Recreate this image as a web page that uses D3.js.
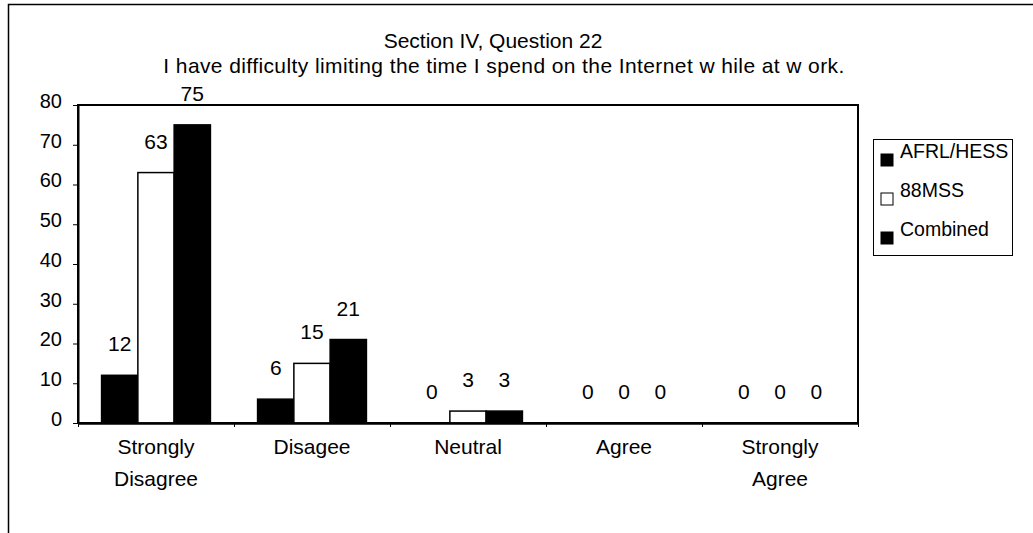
<!DOCTYPE html>
<head>
  <meta charset="utf-8">
  <script src="https://d3js.org/d3.v7.min.js"></script>
  <style>
  body,html {font-family:"Liberation Sans", Arial, sans-serif; margin:0; background:#fff;}
  text {fill:#000;}
  .tick text {font-size:20px;}
</style>
</head>

<body>
  <script>

    // DATA
    const categories = ["Strongly\nDisagree", "Disagee", "Neutral", "Agree", "Strongly\nAgree"];
    const seriesNames = ["AFRL/HESS", "88MSS", "Combined"];
    const seriesFill = ["#000", "#fff", "#000"];
    const afrlHess = [12, 6, 0, 0, 0];
    const mss88 = [63, 15, 3, 0, 0];
    const combined = [75, 21, 3, 0, 0];
    const yTicks = [0, 10, 20, 30, 40, 50, 60, 70, 80];

    const width = 1033;
    const height = 533;
    const plot = {left:78, top:105, right:858, bottom:423};

    const svg = d3.select("body").append("svg")
    .attr("width", width)
    .attr("height", height);

    // outer chart frame (runs off the right and bottom edge)
    svg.append("rect")
    .attr("x", 8.5).attr("y", 4.5)
    .attr("width", 1100).attr("height", 600)
    .attr("fill", "none").attr("stroke", "#000").attr("stroke-width", 1.5);

    // TITLE
    svg.append("text")
    .attr("x", 493).attr("y", 48)
    .attr("text-anchor", "middle")
    .style("font-size", "21px")
    .text("Section IV, Question 22");

    svg.append("text")
    .attr("x", 504).attr("y", 73)
    .attr("text-anchor", "middle")
    .style("font-size", "21px")
    .style("letter-spacing", "0.4px")
    .text("I have difficulty limiting the time I spend on the Internet w hile at w ork.");

    // SCALES
    const x0 = d3.scaleBand()
    .domain(d3.range(categories.length))
    .range([plot.left, plot.right])
    .padding(0);

    const x1 = d3.scaleBand()
    .domain(d3.range(seriesNames.length))
    .range([0, x0.bandwidth()])
    .paddingInner(0)
    .paddingOuter(0.65);

    const y = d3.scaleLinear()
    .domain([0, 80])
    .range([plot.bottom, plot.top]);

    const xEdge = d3.scaleLinear()
    .domain([0, categories.length])
    .range([plot.left, plot.right]);

    // plot area frame
    svg.append("rect")
    .attr("x", plot.left).attr("y", plot.top)
    .attr("width", plot.right - plot.left).attr("height", plot.bottom - plot.top)
    .attr("fill", "none").attr("stroke", "#000").attr("stroke-width", 2);

    // BARS
    const table = categories.map((c, i) => [afrlHess[i], mss88[i], combined[i]]);

    const groups = svg.selectAll(".grp")
    .data(table)
    .enter()
    .append("g")
    .classed("grp", true)
    .attr("transform", (d, i) => "translate(" + x0(i) + ",0)");

    groups.selectAll("rect")
    .data(d => d)
    .enter()
    .append("rect")
    .attr("x", (d, j) => x1(j))
    .attr("y", d => y(d))
    .attr("width", x1.bandwidth())
    .attr("height", d => y(0) - y(d))
    .attr("fill", (d, j) => seriesFill[j])
    .attr("stroke", d => d > 0 ? "#000" : "none")
    .attr("stroke-width", 1.5);

    groups.selectAll(".val")
    .data(d => d)
    .enter()
    .append("text")
    .classed("val", true)
    .attr("x", (d, j) => x1(j) + x1.bandwidth() / 2)
    .attr("y", d => y(d) - 24)
    .attr("text-anchor", "middle")
    .style("font-size", "21px")
    .text(d => d);

    // AXES
    svg.append("g")
    .attr("transform", "translate(" + plot.left + ",0)")
    .call(d3.axisLeft(y).tickValues(yTicks).tickSize(5).tickSizeOuter(0).tickPadding(11))
    .call(g => g.select(".domain").attr("stroke-width", 2))
    .call(g => g.selectAll(".tick text").attr("dy", "0.12em").style("font-family", "Liberation Sans, Arial"));

    svg.append("g")
    .attr("transform", "translate(0," + plot.bottom + ")")
    .call(d3.axisBottom(xEdge).ticks(categories.length).tickSize(4).tickSizeOuter(0).tickFormat(""))
    .call(g => g.select(".domain").attr("stroke-width", 2.5));

    // category labels, two lines where needed
    const catLabels = svg.append("g")
    .selectAll("text")
    .data(categories)
    .enter()
    .append("text")
    .attr("text-anchor", "middle")
    .style("font-size", "21px");

    catLabels.selectAll("tspan")
    .data((d, i) => d.split("\n").map(s => ({s:s, i:i})))
    .enter()
    .append("tspan")
    .attr("x", d => x0(d.i) + x0.bandwidth() / 2)
    .attr("y", (d, k) => 454 + k * 32)
    .text(d => d.s);

    // LEGEND
    const legend = svg.append("g")
    .attr("transform", "translate(873,139)");

    legend.append("rect")
    .attr("x", 0.5).attr("y", 0.5)
    .attr("width", 139).attr("height", 116)
    .attr("fill", "#fff").attr("stroke", "#000").attr("stroke-width", 1);

    const items = legend.selectAll(".item")
    .data(seriesNames)
    .enter()
    .append("g")
    .classed("item", true)
    .attr("transform", (d, i) => "translate(8," + (15 + i * 39) + ")");

    items.append("rect")
    .attr("width", 12).attr("height", 12)
    .attr("fill", (d, i) => seriesFill[i])
    .attr("stroke", "#000").attr("stroke-width", 1);

    items.append("text")
    .attr("x", 19).attr("y", 4)
    .style("font-size", "19.5px")
    .text(d => d);

  </script>
</body>
